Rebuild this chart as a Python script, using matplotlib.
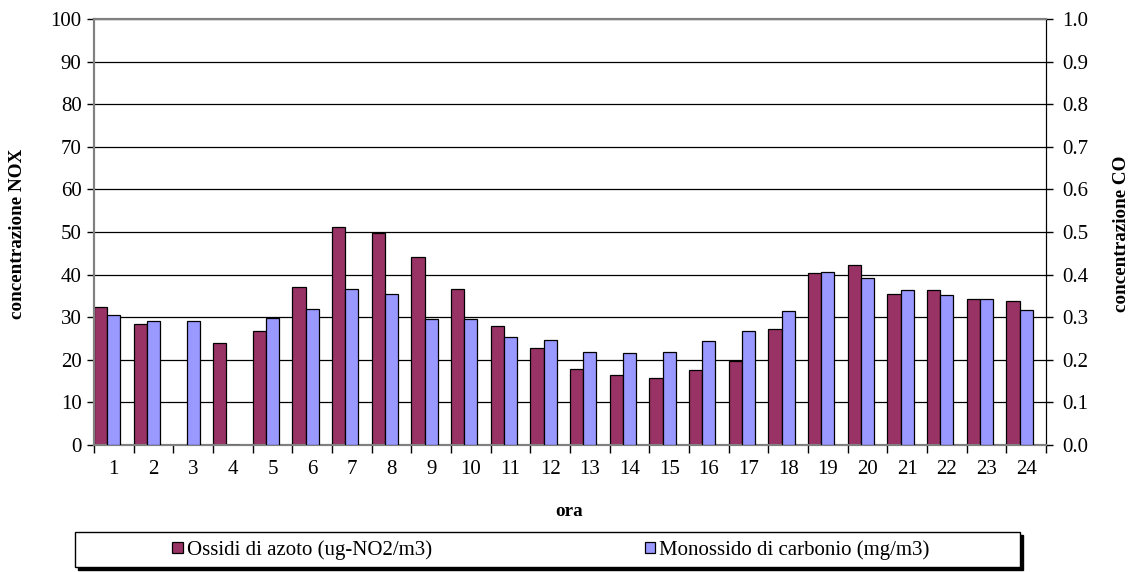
import numpy as np
import matplotlib
matplotlib.use("Agg")
import matplotlib.pyplot as plt
from matplotlib.patches import Rectangle
from matplotlib.ticker import MultipleLocator, FixedLocator

plt.rcParams['font.family'] = ['Liberation Serif', 'DejaVu Serif']

# hourly averages
ore = [str(h) for h in range(1, 25)]
nox = [32.3, 28.4, 0, 24.0, 26.8, 37.0, 51.1, 49.8, 44.1, 36.6, 28.0, 22.8,
       17.8, 16.4, 15.7, 17.6, 19.7, 27.2, 40.3, 42.2, 35.4, 36.3, 34.2, 33.8]
co = [0.305, 0.292, 0.292, 0, 0.299, 0.320, 0.366, 0.354, 0.295, 0.295, 0.253, 0.246,
      0.219, 0.216, 0.219, 0.243, 0.268, 0.314, 0.407, 0.391, 0.363, 0.351, 0.342, 0.317]

nox_lab = "Ossidi di azoto (ug-NO2/m3)"
co_lab = "Monossido di carbonio (mg/m3)"
col_nox = "#993366"
col_co = "#9999FF"

W, H = 1135, 572
fig = plt.figure(figsize=(W / 100, H / 100), dpi=100)
ax = fig.add_axes([94 / W, 1 - 445 / H, (1046 - 94) / W, (445 - 19) / H])
ax2 = ax.twinx()

x = np.arange(len(ore))
bw = 1 / 3
b1 = ax.bar(x - 0.5, nox, width=bw, align='edge', color=col_nox,
            edgecolor='black', linewidth=0.9, label=nox_lab, zorder=3)
b2 = ax2.bar(x - 0.5 + bw, co, width=bw, align='edge', color=col_co,
             edgecolor='black', linewidth=0.9, label=co_lab, zorder=3)

ax.set_xlim(-0.5, len(ore) - 0.5)
ax.set_ylim(0, 100)
ax2.set_ylim(0, 1)
ax.yaxis.set_major_locator(MultipleLocator(10))
ax2.yaxis.set_major_locator(MultipleLocator(0.1))
ax2.yaxis.set_major_formatter(lambda v, p: f"{v:.1f}")

ax.grid(axis='y', color='black', linewidth=0.9, zorder=0)
ax.set_axisbelow(True)

ax.set_xticks(x)
ax.set_xticklabels(ore)
ax.xaxis.set_minor_locator(FixedLocator(np.arange(-0.5, len(ore), 1)))
ax.tick_params(axis='x', which='major', length=0, pad=10.5, labelsize=15)
ax.tick_params(axis='x', which='minor', length=6, direction='out', width=1)
ax.tick_params(axis='y', length=5, width=1, direction='out', pad=4, labelsize=15)
ax2.tick_params(axis='y', length=5, width=1, direction='out', pad=7, labelsize=15)

for a in (ax, ax2):
    a.spines['left'].set_color('#808080')
    a.spines['top'].set_color('#808080')
    a.spines['bottom'].set_color('#808080')
    a.spines['left'].set_linewidth(1.5)
    a.spines['top'].set_linewidth(1.5)
    a.spines['bottom'].set_linewidth(1.5)
    a.spines['right'].set_color('black')

fig.text(18 / W, 1 - 234 / H, "concentrazione NOX", rotation=90, ha='center',
         va='center', fontsize=13.8, fontweight='bold')
fig.text(1122 / W, 1 - 234 / H, "concentrazione CO", rotation=90, ha='center',
         va='center', fontsize=13.8, fontweight='bold')
fig.text(569 / W, 1 - 511 / H, "ora", ha='center', va='center',
         fontsize=13.8, fontweight='bold')

# legend box with a solid shadow
lx0, lx1, ly0, ly1 = 75, 1020, 532, 567
fig.patches.append(Rectangle((lx0 / W + 3 / W, 1 - ly1 / H - 3 / H), (lx1 - lx0) / W,
                             (ly1 - ly0) / H, transform=fig.transFigure,
                             facecolor='black', edgecolor='black', zorder=1))
fig.patches.append(Rectangle((lx0 / W, 1 - ly1 / H), (lx1 - lx0) / W, (ly1 - ly0) / H,
                             transform=fig.transFigure, facecolor='white',
                             edgecolor='black', linewidth=1, zorder=2))
fig.legend([b1, b2], [nox_lab, co_lab], loc='center',
           bbox_to_anchor=(551 / W, 1 - 550 / H), ncol=2, frameon=False,
           fontsize=15, handlelength=0.5, handleheight=0.5, handletextpad=0.2,
           columnspacing=10.2, borderpad=0)

fig.savefig("out.png", dpi=100)
